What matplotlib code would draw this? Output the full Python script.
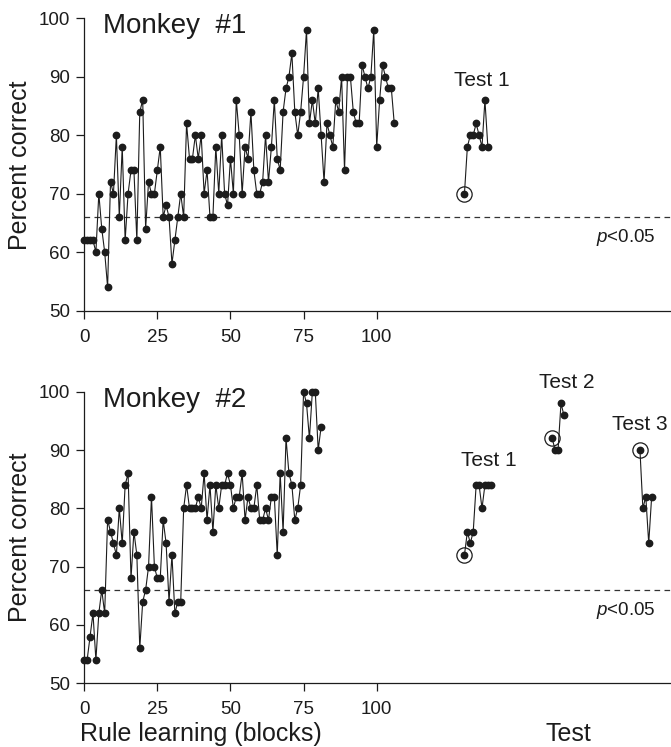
import numpy as np
import matplotlib
matplotlib.use("Agg")
import matplotlib.pyplot as plt

plt.rcParams['font.family'] = ['Liberation Sans', 'DejaVu Sans']
plt.rcParams['mathtext.fontset'] = 'custom'
plt.rcParams['mathtext.rm'] = 'Liberation Sans'
plt.rcParams['mathtext.it'] = 'Liberation Sans:italic'

# percent correct per block
m1_learn = [62, 62, 62, 62, 60, 70, 64, 60, 54, 72, 70, 80, 66, 78, 62, 70, 74, 74, 62, 84,
            86, 64, 72, 70, 70, 74, 78, 66, 68, 66, 58, 62, 66, 70, 66, 82, 76, 76, 80, 76,
            80, 70, 74, 66, 66, 78, 70, 80, 70, 68, 76, 70, 86, 80, 70, 78, 76, 84, 74, 70,
            70, 72, 80, 72, 78, 86, 76, 74, 84, 88, 90, 94, 84, 80, 84, 90, 98, 82, 86, 82,
            88, 80, 72, 82, 80, 78, 86, 84, 90, 74, 90, 90, 84, 82, 82, 92, 90, 88, 90, 98,
            78, 86, 92, 90, 88, 88, 82]
m1_tests = [[70, 78, 80, 80, 82, 80, 78, 86, 78]]

m2_learn = [54, 54, 58, 62, 54, 62, 66, 62, 78, 76, 74, 72, 80, 74, 84, 86, 68, 76, 72, 56,
            64, 66, 70, 82, 70, 68, 68, 78, 74, 64, 72, 62, 64, 64, 80, 84, 80, 80, 80, 82,
            80, 86, 78, 84, 76, 84, 80, 84, 84, 86, 84, 80, 82, 82, 86, 78, 82, 80, 80, 84,
            78, 78, 80, 78, 82, 82, 72, 86, 76, 92, 86, 84, 78, 80, 84, 100, 98, 92, 100, 100,
            90, 94]
m2_tests = [[72, 76, 74, 76, 84, 84, 80, 84, 84, 84],
            [92, 90, 90, 98, 96],
            [90, 80, 82, 74, 82]]

test_start = [130, 160, 190]
test_names = ["Test 1", "Test 2", "Test 3"]
chance = 66
x_ticks = [0, 25, 50, 75, 100]
y_ticks = [50, 60, 70, 80, 90, 100]

W, H = 671, 747
X0 = 84.2
PX_PER_BLOCK = 2.925
XMAX = (W - X0) / PX_PER_BLOCK
INK = "#1c1c1c"

fig = plt.figure(figsize=(W / 100, H / 100), dpi=100)


def draw_series(ax, xs, ys):
    ax.plot(xs, ys, color=INK, lw=0.8, marker='o', ms=4.6,
            mfc=INK, mec=INK, clip_on=False, zorder=3)


def draw_panel(ax, title, learn, tests, label_pos):
    draw_series(ax, np.arange(len(learn)), learn)
    for i, vals in enumerate(tests):
        xs = test_start[i] + np.arange(len(vals))
        draw_series(ax, xs, vals)
        ax.plot(xs[0], vals[0], marker='o', ms=11, mfc='none', mec=INK,
                mew=0.9, clip_on=False, zorder=4)
        lx, ly = label_pos[i]
        ax.text(lx, ly, test_names[i], fontsize=15, ha='center', va='baseline', color=INK)

    ax.axhline(chance, color="#333333", lw=0.9, ls=(0, (4.5, 3.5)), zorder=1)
    ax.text(195.5, 62.5, r"$p$<0.05", fontsize=13.5, ha='right', va='center', color=INK)
    ax.text(6.4, 97.4, title, fontsize=20, ha='left', va='baseline', color=INK)

    ax.set_xlim(0, XMAX)
    ax.set_ylim(50, 100)
    ax.set_xticks(x_ticks)
    ax.set_yticks(y_ticks)
    for side in ['top', 'right']:
        ax.spines[side].set_visible(False)
    for side in ['left', 'bottom']:
        ax.spines[side].set_linewidth(0.9)
        ax.spines[side].set_color(INK)
    ax.tick_params(direction='out', length=6, width=0.9, colors=INK,
                   labelsize=13.5, pad=4)
    ax.tick_params(axis='x', pad=7)


ax1 = fig.add_axes([X0 / W, 1 - 310.5 / H, (W - X0) / W, (310.5 - 18.3) / H])
ax2 = fig.add_axes([X0 / W, 1 - 683.3 / H, (W - X0) / W, (683.3 - 391.7) / H])

draw_panel(ax1, "Monkey  #1", m1_learn, m1_tests, [(136, 88.4)])
draw_panel(ax2, "Monkey  #2", m2_learn, m2_tests, [(138.4, 87.2), (165, 100.6), (190, 93.4)])

for yc in [165, 537]:
    fig.text(20 / W, 1 - yc / H, "Percent correct", rotation=90, fontsize=18,
             ha='center', va='center', color=INK)

fig.text(80 / W, 1 - 741 / H, "Rule learning (blocks)", fontsize=18,
         ha='left', va='baseline', color=INK)
fig.text(568 / W, 1 - 741 / H, "Test", fontsize=18,
         ha='center', va='baseline', color=INK)

fig.savefig("out.png", dpi=100)
